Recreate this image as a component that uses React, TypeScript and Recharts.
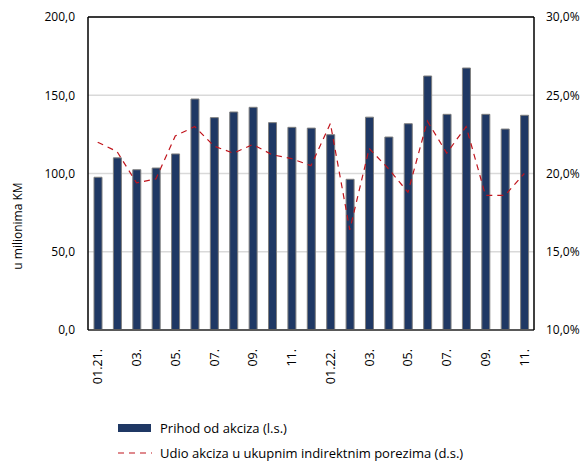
import React from "react";
import {
  ComposedChart, Bar, Line, XAxis, YAxis, CartesianGrid, ReferenceLine
} from "recharts";

const months = [
  "01.21.", "02.", "03.", "04.", "05.", "06.", "07.", "08.", "09.", "10.", "11.", "12.",
  "01.22.", "02.", "03.", "04.", "05.", "06.", "07.", "08.", "09.", "10.", "11.",
];

// Prihod od akciza, u milionima KM (l.s.)
const revenue = [
  97.6, 110.0, 102.4, 103.5, 112.5, 147.6, 135.7, 139.3, 142.3, 132.5, 129.5, 129.0,
  124.8, 96.3, 136.0, 123.3, 131.8, 162.3, 137.8, 167.4, 137.8, 128.4, 137.2,
];

// Udio akciza u ukupnim indirektnim porezima, % (d.s.)
const share = [
  22.0, 21.4, 19.4, 19.65, 22.4, 23.0, 21.75, 21.3, 21.85, 21.2, 20.95, 20.5,
  23.2, 16.4, 21.6, 20.3, 18.8, 23.35, 21.3, 23.0, 18.6, 18.6, 20.0,
];

const leftTicks = [0, 50, 100, 150, 200];
const rightTicks = [10, 15, 20, 25, 30];

const data = months.map((m, i) => ({ m, revenue: revenue[i], share: share[i] }));

const FONT = "'Open Sans', sans-serif";
const NAVY = "#1f3864";
const RED = "#c0141c";

const fmt = (v: number) => v.toFixed(1).replace(".", ",");

function MonthTick({ x, y, payload }: any) {
  return (
    <text
      transform={`translate(${x},${y + 11}) rotate(-90)`}
      textAnchor="end"
      dominantBaseline="central"
      fontSize={12.5}
      fontFamily={FONT}
      fill="#000"
    >
      {payload.value}
    </text>
  );
}

function LegendBox() {
  return (
    <svg width={583} height={48} style={{ display: "block", position: "absolute", left: 0, top: 419 }}>
      <rect x={118} y={5} width={33} height={8} fill={NAVY} />
      <text x={160} y={9} dominantBaseline="central" fontSize={13} fontFamily={FONT} fill="#000">
        Prihod od akciza (l.s.)
      </text>
      <line x1={118} x2={152} y1={34} y2={34} stroke={RED} strokeWidth={1.2} strokeDasharray="6 5" />
      <text x={160} y={34} dominantBaseline="central" fontSize={13} fontFamily={FONT} fill="#000">
        Udio akciza u ukupnim indirektnim porezima (d.s.)
      </text>
    </svg>
  );
}

export default function App() {
  return (
    <div style={{ position: "absolute", left: 0, top: 0, width: 583, height: 463, background: "#fff" }}>
      <ComposedChart
        width={583}
        height={463}
        data={data}
        margin={{ top: 17, right: 0, bottom: 0, left: 0 }}
        barCategoryGap="0%"
      >
        <CartesianGrid yAxisId="left" vertical={false} stroke="#d9d9d9" strokeWidth={1.5} />
        <XAxis
          dataKey="m"
          interval={1}
          height={133}
          tick={<MonthTick />}
          tickLine={false}
          axisLine={{ stroke: "#595959", strokeWidth: 2 }}
        />
        <YAxis
          yAxisId="left"
          width={88}
          domain={[0, 200]}
          ticks={leftTicks}
          tickFormatter={fmt}
          tickLine={false}
          tickSize={5}
          tickMargin={8}
          axisLine={{ stroke: "#000", strokeWidth: 1.5 }}
          tick={{ fontSize: 12, fontFamily: FONT, fill: "#000" }}
          label={{
            content: () => (
              <text
                transform="translate(17,226) rotate(-90)"
                textAnchor="middle"
                dominantBaseline="central"
                fontSize={12}
                fontFamily={FONT}
                fill="#000"
              >
                u milionima KM
              </text>
            ),
          }}
        />
        <YAxis
          yAxisId="right"
          orientation="right"
          width={49}
          domain={[10, 30]}
          ticks={rightTicks}
          tickFormatter={(v: number) => `${fmt(v)}%`}
          tickLine={false}
          tickSize={5}
          tickMargin={7}
          axisLine={{ stroke: "#000", strokeWidth: 1.5 }}
          tick={{ fontSize: 12, fontFamily: FONT, fill: "#000", textAnchor: "start" }}
        />
        <ReferenceLine yAxisId="left" y={200} stroke="#000" strokeWidth={1.5} />
        <Bar
          yAxisId="left"
          dataKey="revenue"
          barSize={8}
          fill={NAVY}
          stroke="#7f7f7f"
          strokeWidth={1}
          isAnimationActive={false}
        />
        <Line
          yAxisId="right"
          dataKey="share"
          type="linear"
          stroke={RED}
          strokeWidth={1.2}
          strokeDasharray="6 5"
          dot={false}
          isAnimationActive={false}
        />
      </ComposedChart>
      <LegendBox />
    </div>
  );
}
